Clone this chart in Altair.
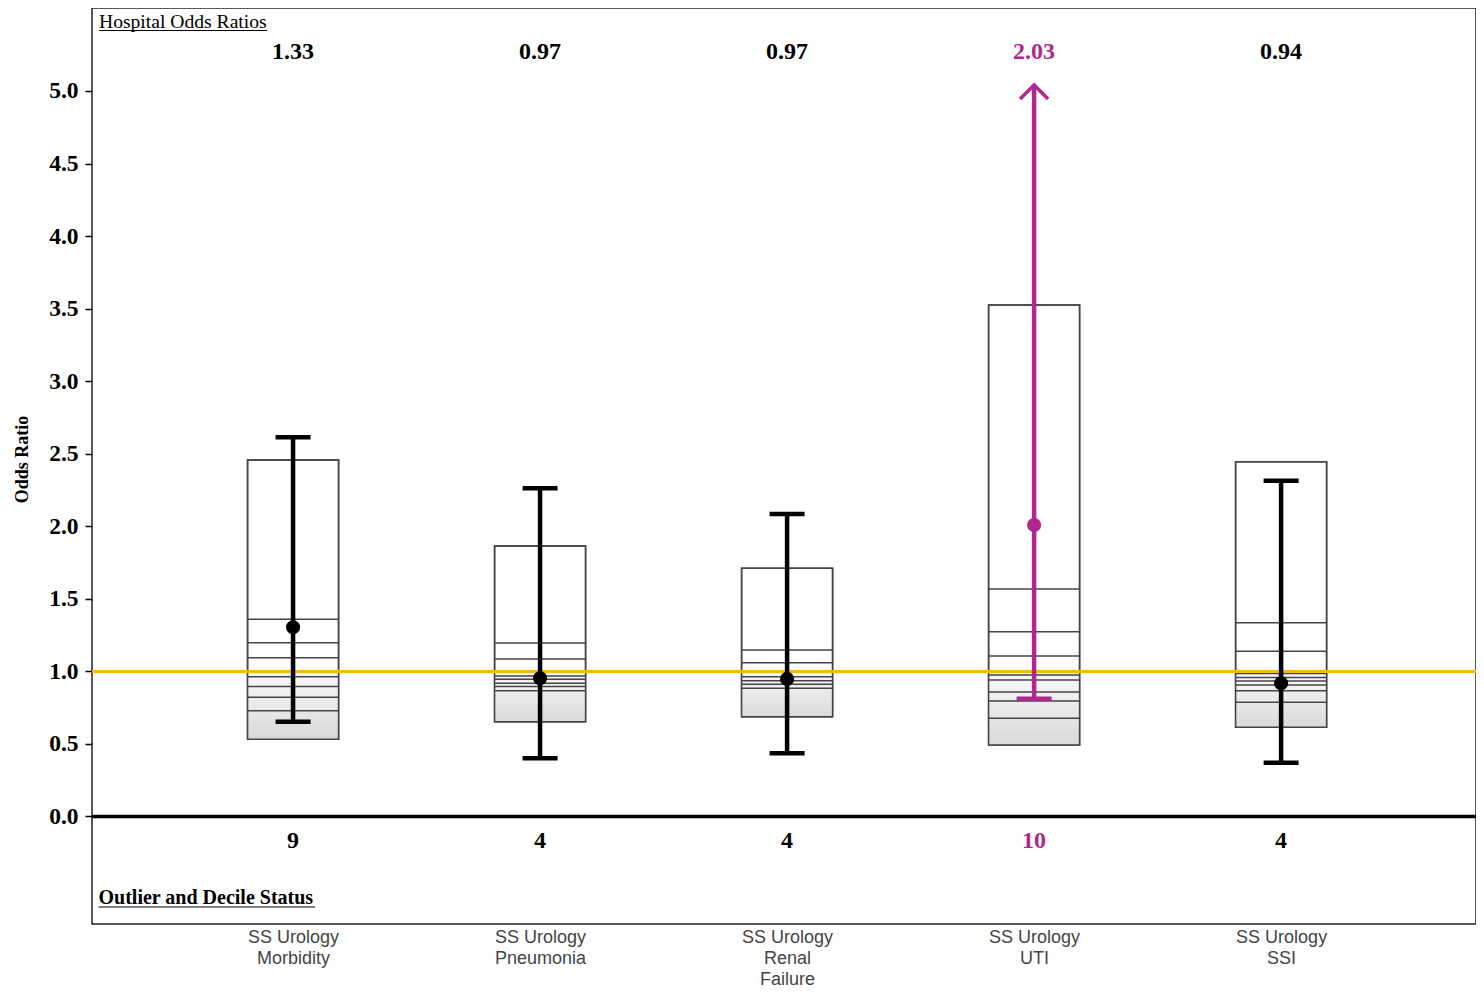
import altair as alt
import pandas as pd

# ---------------- data ----------------
categories = ["SS Urology|Morbidity", "SS Urology|Pneumonia", "SS Urology|Renal|Failure",
              "SS Urology|UTI", "SS Urology|SSI"]
odds_ratio = [1.304, 0.952, 0.948, 2.009, 0.918]          # plotted point
odds_ratio_label = ["1.33", "0.97", "0.97", "2.03", "0.94"]
ci_lower = [0.653, 0.401, 0.436, 0.812, 0.371]
ci_upper = [2.613, 2.262, 2.085, 5.041, 2.314]
ci_truncated = [False, False, False, True, False]
box_lower = [0.532, 0.653, 0.688, 0.493, 0.615]
box_upper = [2.457, 1.864, 1.711, 3.525, 2.445]
deciles_morbidity = [1.359, 1.198, 1.094, 0.995, 0.963, 0.895, 0.822, 0.729]
deciles_pneumonia = [1.196, 1.085, 0.995, 0.968, 0.946, 0.918, 0.895, 0.867]
deciles_renal = [1.147, 1.060, 0.995, 0.963, 0.936, 0.911, 0.884]
deciles_uti = [1.568, 1.274, 1.106, 0.975, 0.941, 0.858, 0.796, 0.677]
deciles_ssi = [1.336, 1.139, 0.985, 0.957, 0.934, 0.906, 0.867, 0.787]
decile_status = ["9", "4", "4", "10", "4"]
is_outlier = [False, False, False, True, False]
y_ticks = [0.0, 0.5, 1.0, 1.5, 2.0, 2.5, 3.0, 3.5, 4.0, 4.5, 5.0]

# ---------------- tables ----------------
idx = list(range(len(categories)))
status = ["Outlier" if o else "Normal" for o in is_outlier]
df = pd.DataFrame({
    "idx": idx, "category": categories, "or": odds_ratio, "or_label": odds_ratio_label,
    "lo": ci_lower, "hi": ci_upper, "trunc": ci_truncated,
    "box_lo": box_lower, "box_hi": box_upper, "decile": decile_status, "status": status,
})
all_deciles = [deciles_morbidity, deciles_pneumonia, deciles_renal, deciles_uti, deciles_ssi]
dec_df = pd.DataFrame([{"idx": i, "v": v} for i, lst in enumerate(all_deciles) for v in lst])
caps_hi = df[~df["trunc"]]
arrow_df = df[df["trunc"]]
one = pd.DataFrame({"k": [0]})

SERIF = "Liberation Serif"
SANS = "Liberation Sans"
MAGENTA = "#B0278E"
LINE = "#444444"
BOX_W = 91

label_arr = "[" + ",".join("'" + c + "'" for c in categories) + "]"

x_scale = alt.Scale(domain=[-0.814, 4.789], nice=False, zero=False, padding=0)
y_scale = alt.Scale(domain=[-0.741, 5.572], nice=False, zero=False, padding=0)
color_scale = alt.Scale(domain=["Normal", "Outlier"], range=["#000000", MAGENTA])

x_axis = alt.Axis(values=idx, labelExpr="split(" + label_arr + "[datum.value], '|')",
                  title=None, ticks=False, domain=False, grid=False,
                  labelFont=SANS, labelFontSize=18, labelColor="#444444",
                  labelLineHeight=21, labelPadding=4, labelBaseline="top",
                  labelOverlap=False, labelBound=False, labelFlush=False)
y_axis = alt.Axis(values=y_ticks, format=".1f", title="Odds Ratio", grid=False, domain=False,
                  labelFont=SERIF, labelFontSize=23.5, labelFontWeight="bold", labelColor="#000000",
                  tickSize=7, tickWidth=1.5, tickColor="#000000", labelPadding=7,
                  titleFont=SERIF, titleFontSize=18, titleFontWeight="bold", titleColor="#000000",
                  titleX=-70, titleY=451, titleAngle=-90, titleAlign="center", titleBaseline="middle")

X = alt.X("idx:Q", scale=x_scale, axis=x_axis)

# box (white with outline)
box = alt.Chart(df).mark_bar(size=BOX_W, fill="white", stroke=LINE, strokeWidth=1.5).encode(
    x=X,
    y=alt.Y("box_lo:Q", scale=y_scale, axis=y_axis),
    y2="box_hi:Q",
)
grad = alt.Chart(df).mark_bar(
    size=BOX_W, strokeWidth=0,
    color=alt.LinearGradient(gradient="linear",
                             stops=[alt.GradientStop(color="#fafafa", offset=0),
                                    alt.GradientStop(color="#d9d9d9", offset=1)],
                             x1=0, x2=0, y1=0, y2=1),
).encode(x=X, y=alt.Y("box_lo:Q", scale=y_scale), y2=alt.datum(1.0))
dec_lines = alt.Chart(dec_df).mark_tick(orient="horizontal", size=BOX_W, thickness=1.5,
                                         color=LINE, opacity=1).encode(x=X, y=alt.Y("v:Q", scale=y_scale))
outline = alt.Chart(df).mark_bar(size=BOX_W, fillOpacity=0, stroke=LINE, strokeWidth=1.5).encode(
    x=X, y=alt.Y("box_lo:Q", scale=y_scale), y2="box_hi:Q")

ref_one = alt.Chart(one).mark_rule(color="#FDB515", strokeWidth=3).encode(y=alt.datum(1.0))
ref_zero = alt.Chart(one).mark_rule(color="#000000", strokeWidth=3.5).encode(y=alt.datum(0.0))

C = alt.Color("status:N", scale=color_scale, legend=None)
whisk = alt.Chart(df).mark_rule(strokeWidth=4.5).encode(
    x=X, y=alt.Y("lo:Q", scale=y_scale), y2="hi:Q", color=C)
cap_lo = alt.Chart(df).mark_tick(orient="horizontal", size=35, thickness=4.5, opacity=1).encode(
    x=X, y=alt.Y("lo:Q", scale=y_scale), color=C)
cap_hi = alt.Chart(caps_hi).mark_tick(orient="horizontal", size=35, thickness=4.5, opacity=1).encode(
    x=X, y=alt.Y("hi:Q", scale=y_scale), color=C)
arrow = alt.Chart(arrow_df).mark_point(shape="M-1,1L0,0L1,1", filled=False, size=784,
                                       strokeWidth=3.5, opacity=1).encode(
    x=X, y=alt.Y("hi:Q", scale=y_scale), color=C)
pts = alt.Chart(df).mark_circle(size=200, opacity=1).encode(
    x=X, y=alt.Y("or:Q", scale=y_scale), color=C)

top_txt = alt.Chart(df).mark_text(font=SERIF, fontSize=24, fontWeight="bold", baseline="middle").encode(
    x=X, y=alt.value(44), text="or_label:N", color=C)
bot_txt = alt.Chart(df).mark_text(font=SERIF, fontSize=24, fontWeight="bold", baseline="middle").encode(
    x=X, y=alt.value(833), text="decile:N", color=C)

title1 = alt.Chart(one).mark_text(text="Hospital Odds Ratios", font=SERIF, fontSize=19.6, align="left",
                                  baseline="alphabetic", color="#000000").encode(
    x=alt.value(7), y=alt.value(19.5))
ul1 = alt.Chart(one).mark_rule(color="#000000", strokeWidth=1).encode(
    x=alt.value(7), x2=alt.value(175), y=alt.value(22.5))
title2 = alt.Chart(one).mark_text(text="Outlier and Decile Status", font=SERIF, fontSize=20,
                                  fontWeight="bold", align="left", baseline="alphabetic",
                                  color="#000000").encode(x=alt.value(6.5), y=alt.value(896))
ul2 = alt.Chart(one).mark_rule(color="#000000", strokeWidth=1).encode(
    x=alt.value(6.5), x2=alt.value(223), y=alt.value(899))

chart = alt.layer(
    box, grad, dec_lines, outline, ref_one, ref_zero, whisk, cap_lo, cap_hi, arrow, pts,
    top_txt, bot_txt, title1, ul1, title2, ul2,
).properties(
    width=1384, height=916,
    autosize=alt.AutoSizeParams(type="none"),
    padding={"left": 84, "top": 0, "right": 0, "bottom": 65},
    background="white",
).configure_view(stroke="#222222", strokeWidth=1.5)

chart.save("out.html", embed_options={"renderer": "svg", "actions": False})
